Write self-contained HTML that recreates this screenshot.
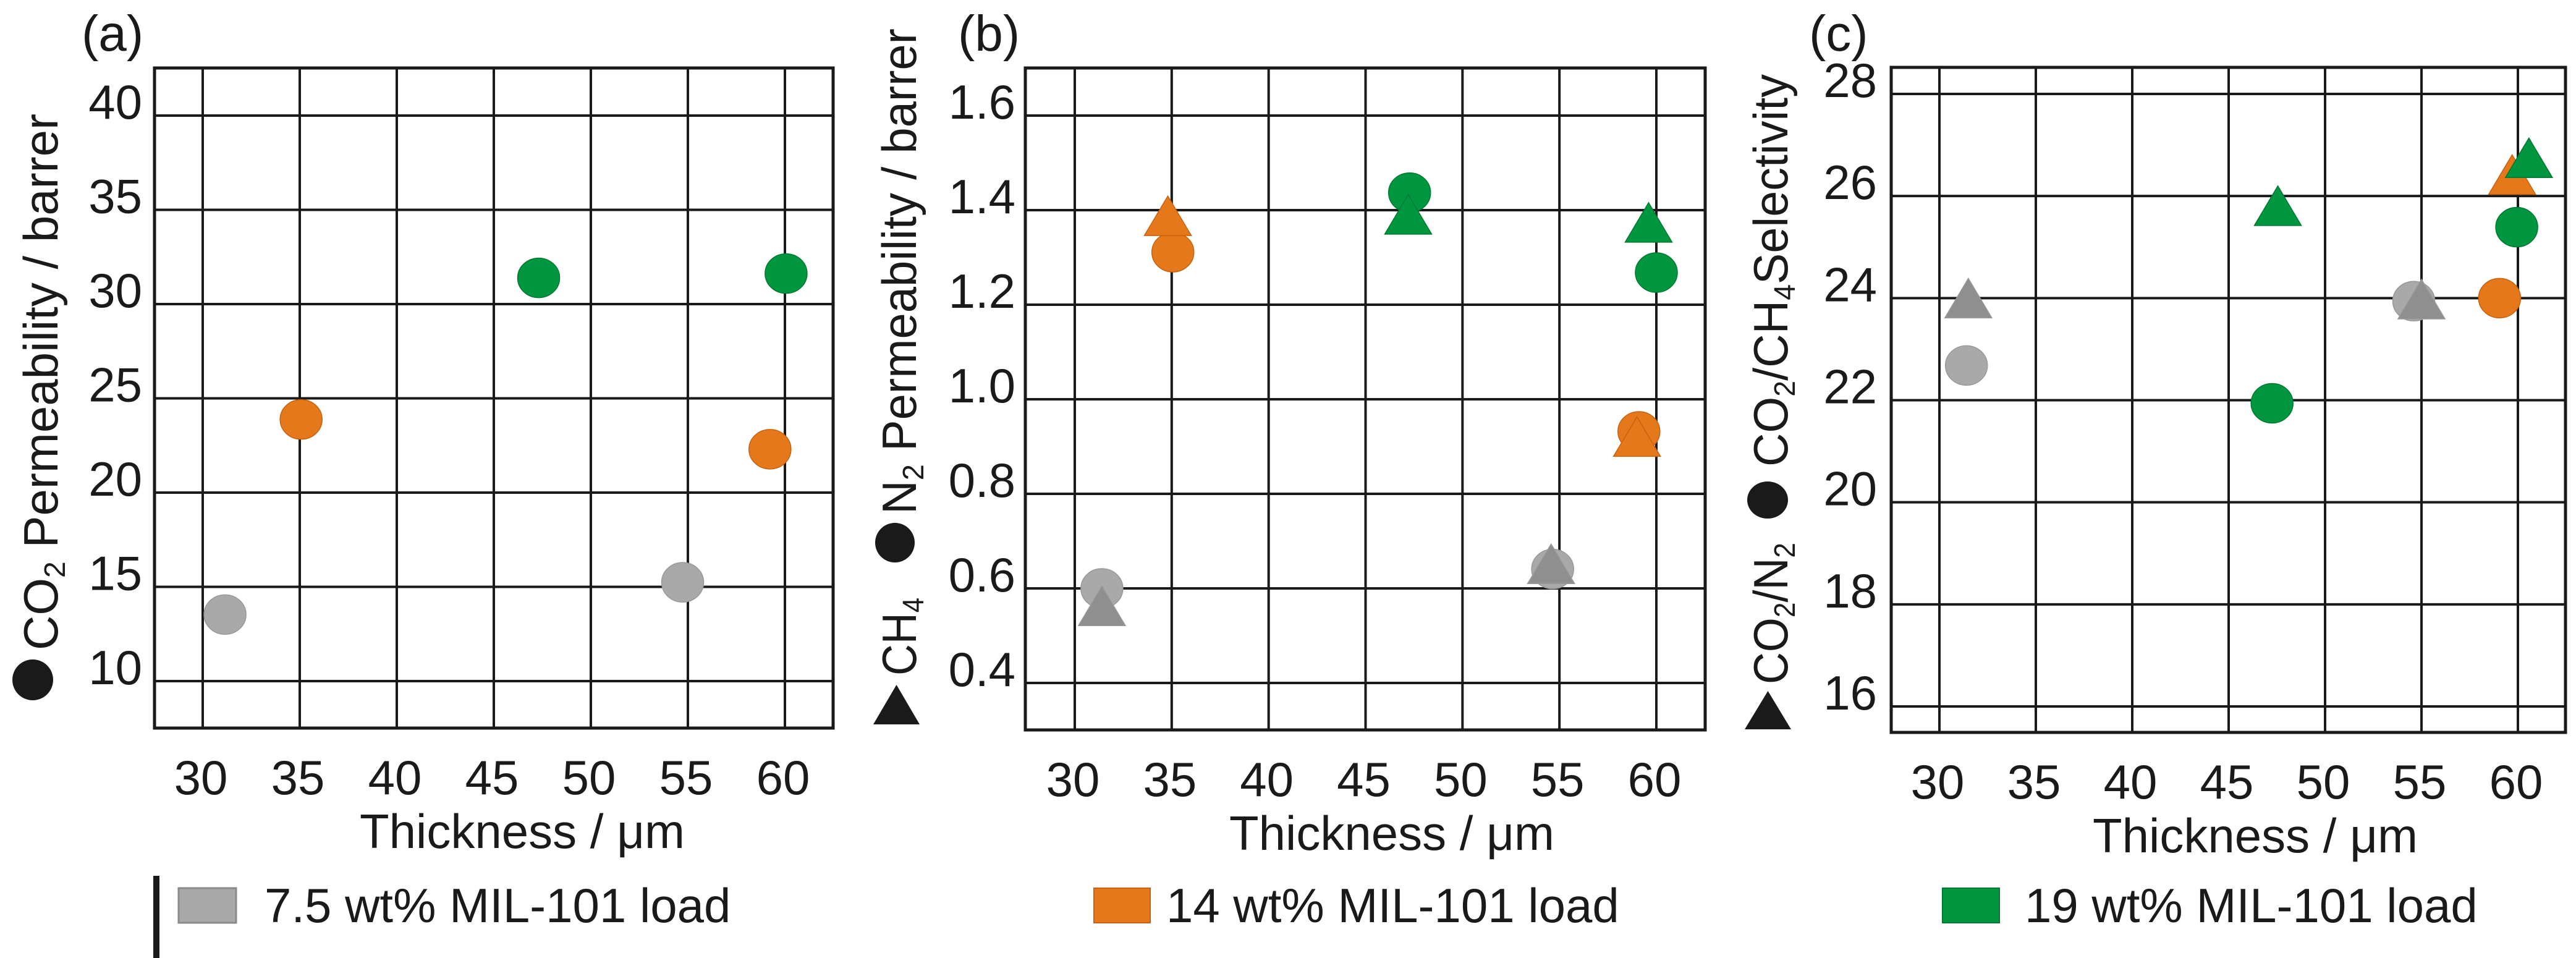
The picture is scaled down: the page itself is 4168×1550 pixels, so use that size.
<!DOCTYPE html>
<html><head><meta charset="utf-8"><style>
html,body{margin:0;padding:0;background:#fff;}
svg{display:block;font-family:"Liberation Sans",Arial,sans-serif;}
</style></head><body>
<svg id="fig" width="4168" height="1550" viewBox="0 0 4168 1550">
<g id="static" fill="#1a1a1a">
  <text x="132" y="82" font-size="82">(a)</text>
  <text x="1550" y="82" font-size="82">(b)</text>
  <text x="2927" y="82" font-size="82">(c)</text>

  <!-- y-axis titles -->
  <g>
    <circle cx="53" cy="1100" r="33" fill="#1a1a1a"/>
    <text transform="translate(93,1052) rotate(-90)" font-size="78" textLength="868" lengthAdjust="spacingAndGlyphs">CO<tspan font-size="48" dy="12">2</tspan><tspan dy="-12"> Permeability / barrer</tspan></text>
  </g>
  <g>
    <polygon points="1413,1172 1488,1172 1450.5,1108" fill="#1a1a1a"/>
    <text transform="translate(1482,1093) rotate(-90)" font-size="78" textLength="126" lengthAdjust="spacingAndGlyphs">CH<tspan font-size="48" dy="12">4</tspan></text>
    <circle cx="1448" cy="878" r="32" fill="#1a1a1a"/>
    <text transform="translate(1482,832) rotate(-90)" font-size="78" textLength="786" lengthAdjust="spacingAndGlyphs">N<tspan font-size="48" dy="12">2</tspan><tspan dy="-12"> Permeability / barrer</tspan></text>
  </g>
  <g>
    <polygon points="2823,1180 2898,1180 2860.5,1118" fill="#1a1a1a"/>
    <text transform="translate(2892,1107) rotate(-90)" font-size="78" textLength="229" lengthAdjust="spacingAndGlyphs">CO<tspan font-size="48" dy="12">2</tspan><tspan dy="-12">/N</tspan><tspan font-size="48" dy="12">2</tspan></text>
    <ellipse cx="2860" cy="809" rx="33" ry="30" fill="#1a1a1a"/>
    <text transform="translate(2892,755) rotate(-90)" font-size="78" textLength="635" lengthAdjust="spacingAndGlyphs">CO<tspan font-size="48" dy="12">2</tspan><tspan dy="-12">/CH</tspan><tspan font-size="48" dy="12">4</tspan><tspan dy="-12">Selectivity</tspan></text>
  </g>

  <!-- legend -->
  <rect x="248" y="1417" width="10" height="133" fill="#1a1a1a"/>
  <g>
    <rect x="289" y="1437" width="93" height="56" fill="#a9a9a9" stroke="#8a8a8a" stroke-width="3"/>
    <text x="428" y="1492" font-size="78">7.5 wt% MIL-101 load</text>
  </g>
  <g>
    <rect x="1770" y="1437" width="91" height="56" fill="#e5781b" stroke="#c8620e" stroke-width="2"/>
    <text x="1887" y="1492" font-size="78">14 wt% MIL-101 load</text>
  </g>
  <g>
    <rect x="3143" y="1437" width="92" height="56" fill="#009640" stroke="#007a33" stroke-width="2"/>
    <text x="3276" y="1492" font-size="78">19 wt% MIL-101 load</text>
  </g>
</g>
<g id="charts"></g>
</svg>
<script>
// ---- data ----
const xTicks = [30, 35, 40, 45, 50, 55, 60];
const groups = ["7.5", "14", "19"];
// panel a: CO2 permeability (circles)
const aTicks = [10, 15, 20, 25, 30, 35, 40];
const aCircX = [[31.15, 54.73], [35.07, 59.23], [47.31, 60.06]];
const aCircY = [[13.53, 15.24], [23.88, 22.30], [31.39, 31.62]];
// panel b: N2 (circles) & CH4 (triangles) permeability
const bTicks = [0.4, 0.6, 0.8, 1.0, 1.2, 1.4, 1.6];
const bTickLabels = ["0.4", "0.6", "0.8", "1.0", "1.2", "1.4", "1.6"];
const bCircX = [[31.4, 54.65], [35.06, 59.1], [47.27, 60.0]];
const bCircY = [[0.60, 0.641], [1.311, 0.932], [1.437, 1.268]];
const bTriX = [[31.4, 54.57], [34.8, 59.0], [47.2, 59.6]];
const bTriY = [[0.563, 0.652], [1.388, 0.921], [1.391, 1.374]];
// panel c: CO2/CH4 (circles) & CO2/N2 (triangles) selectivity
const cTicks = [16, 18, 20, 22, 24, 26, 28];
const cCircX = [[31.4, 54.6], [59.05], [47.25, 59.94]];
const cCircY = [[22.68, 23.94], [24.0], [21.94, 25.39]];
const cTriX = [[31.5, 55.0], [59.7], [47.55, 60.57]];
const cTriY = [[24.0, 23.98], [26.42], [25.81, 26.75]];

const circFill = ["#a9a9a9", "#e5781b", "#009640"];
const circStroke = ["#999999", "#c8620e", "#007a33"];
const triFill = ["#8f8f8f", "#e5781b", "#009640"];
const NS = "http://www.w3.org/2000/svg";
const root = document.getElementById("charts");

function lin(d0, d1, r0, r1) { return v => r0 + (v - d0) / (d1 - d0) * (r1 - r0); }
function mk(tag, attrs, parent) {
  const e = document.createElementNS(NS, tag);
  for (const k in attrs) e.setAttribute(k, attrs[k]);
  parent.appendChild(e);
  return e;
}

function panel(id, frame, xs, ys, yTicks, yLabels, labelRight, circX, circY, triX, triY, titleX) {
  const g = mk("g", {}, root);
  
  
  // gridlines
  xTicks.forEach(t => {
    const l = mk("line", {x1: xs(t), x2: xs(t), y1: frame.t, y2: frame.b, stroke: "#1a1a1a", "stroke-width": 4}, g);
    
    
    const tx = mk("text", {x: xs(t) - 3, y: frame.b + 107, "font-size": 78, "text-anchor": "middle", fill: "#1a1a1a"}, g);
    tx.textContent = t;
    
    
  });
  yTicks.forEach((t, i) => {
    const l = mk("line", {x1: frame.l, x2: frame.r, y1: ys(t), y2: ys(t), stroke: "#1a1a1a", "stroke-width": 4}, g);
    
    
    const tx = mk("text", {x: labelRight, y: ys(t) + 5, "font-size": 78, "text-anchor": "end", fill: "#1a1a1a"}, g);
    tx.textContent = yLabels[i];
    
    
  });
  const fr = mk("rect", {x: frame.l, y: frame.t, width: frame.r - frame.l, height: frame.b - frame.t, fill: "none", stroke: "#1a1a1a", "stroke-width": 5}, g);
  
  
  const xt = mk("text", {x: titleX, y: frame.b + 194, "font-size": 78, "text-anchor": "middle", fill: "#1a1a1a"}, g);
  xt.textContent = "Thickness / \u03bcm";
  
  
  // circles
  circX.forEach((arr, gi) => arr.forEach((v, j) => {
    const c = mk("ellipse", {cx: xs(v), cy: ys(circY[gi][j]), rx: 34, ry: 32, fill: circFill[gi], stroke: circStroke[gi], "stroke-width": 1.5}, g);
    
    
  }));
  // triangles
  if (triX) triX.forEach((arr, gi) => arr.forEach((v, j) => {
    const cx = xs(v), cy = ys(triY[gi][j]);
    const p = mk("polygon", {points: (cx - 38) + "," + (cy + 32) + " " + (cx + 38) + "," + (cy + 32) + " " + cx + "," + (cy - 32), fill: triFill[gi], stroke: circStroke[gi], "stroke-width": 1.5}, g);
    
    
  }));
}

panel("a", {l: 250, r: 1348, t: 110, b: 1178}, lin(30, 60, 328, 1270), lin(10, 40, 1102, 187),
  aTicks, aTicks.map(String), 230, aCircX, aCircY, null, null, 845);
panel("b", {l: 1659, r: 2759, t: 110, b: 1181}, lin(30, 60, 1739, 2680), lin(0.4, 1.6, 1105, 187),
  bTicks, bTickLabels, 1643, bCircX, bCircY, bTriX, bTriY, 2252);
panel("c", {l: 3060, r: 4151, t: 109, b: 1185}, lin(30, 60, 3138, 4074), lin(16, 28, 1143, 152),
  cTicks, cTicks.map(String), 3037, cCircX, cCircY, cTriX, cTriY, 3649);
</script>
</body></html>
